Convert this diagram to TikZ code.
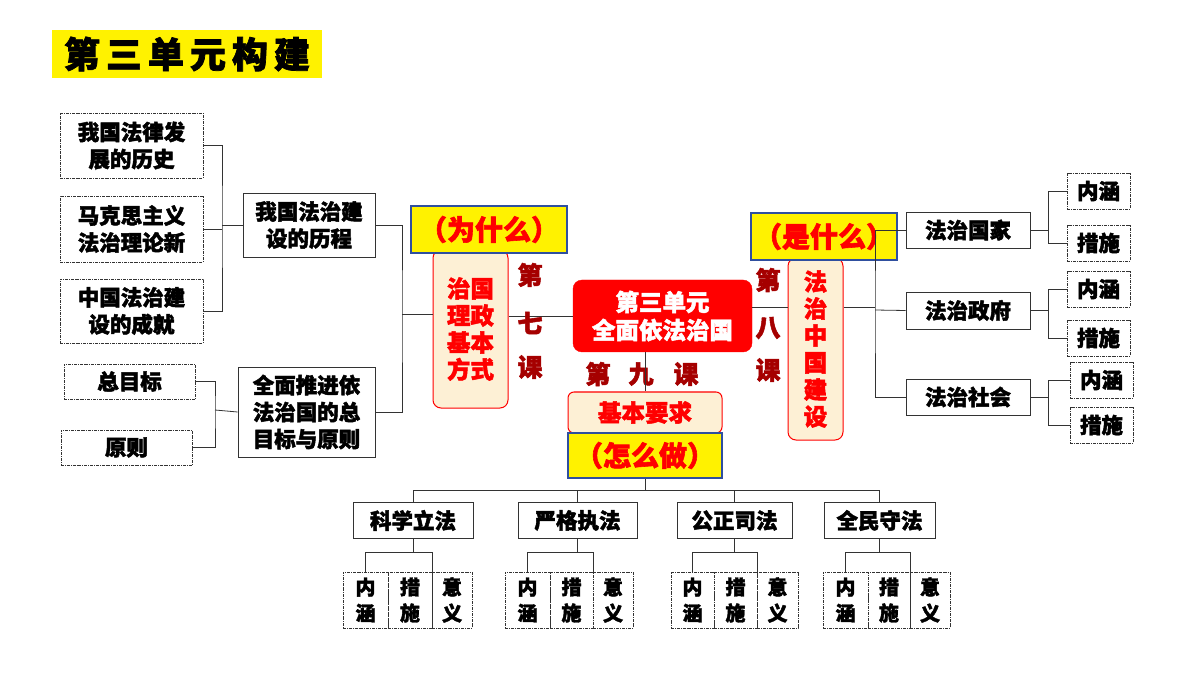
\documentclass[tikz,border=0pt]{standalone}
\usepackage{fontspec}
\setmainfont{Noto Sans CJK SC}[FakeBold=2]
\usetikzlibrary{positioning}
\definecolor{cream}{HTML}{FDF0D5}
\definecolor{dred}{HTML}{A50000}
\definecolor{bl}{HTML}{2F4F9F}
\tikzset{
 bx/.style={draw=black!80,line width=0.8pt,align=center,font=\fontsize{21.5}{27}\selectfont\bfseries,inner sep=0pt},
 db/.style={bx,densely dashdotted},
 yb/.style={draw=bl,line width=2pt,fill=yellow,text=red,font=\fontsize{28}{32}\selectfont\bfseries,inner sep=0pt},
 cb/.style={draw=red,line width=1pt,fill=cream,rounded corners=8pt,text=red,align=center,font=\fontsize{23.5}{27}\selectfont\bfseries,inner sep=0pt},
 ln/.style={draw=black!80,line width=0.8pt},
 lk/.style={text=dred,font=\fontsize{25}{28}\selectfont\bfseries}
}
\begin{document}
\begin{tikzpicture}[x=1pt,y=-1pt]
\useasboundingbox (0,0) rectangle (1200,676);
% title
\node[fill=yellow,minimum width=270,minimum height=48,font=\fontsize{36}{40}\selectfont\bfseries,inner sep=0pt] (title) at (187,54) {第\,三\,单\,元\,构\,建};
% left dashed boxes
\node[db,minimum width=143,minimum height=65] (l1) at (131.5,145.5) {我国法律发\\展的历史};
\node[db,minimum width=143,minimum height=66] (l2) at (131.5,229) {马克思主义\\法治理论新};
\node[db,minimum width=143,minimum height=64] (l3) at (131.5,311) {中国法治建\\设的成就};
\node[bx,minimum width=132,minimum height=64] (h1) at (309,225) {我国法治建\\设的历程};
\node[db,minimum width=131,minimum height=35] (g1) at (129.5,381.5) {总目标};
\node[db,minimum width=131,minimum height=35] (g2) at (126.5,447.5) {原则};
\node[bx,minimum width=137,minimum height=90] (h2) at (306.5,412) {全面推进依\\法治国的总\\目标与原则};
\draw[ln] (l1.east) -| (222,225) coordinate (j1) |- (l3.east);
\draw[ln] (l2.east) -- (l2.east -| j1);
\draw[ln] (j1) -- (h1.west);
\draw[ln] (g1.east) -| (215,410) coordinate (j2) |- (g2.east);
\draw[ln] (j2) -- (h2.west);
\draw[ln] (h1.east) -| (402,314) coordinate (j3) |- (h2.east);
% center
\node[cb,minimum width=75,minimum height=158] (k7) at (470.5,329) {治国\\理政\\基本\\方式};
\node[yb,minimum width=156,minimum height=47] (why) at (489,229.5) {（为什么）};
\draw[ln] (j3) -- (k7.west |- j3);
\node[draw=red,fill=red,rounded corners=9pt,minimum width=179,minimum height=72,text=white,align=center,font=\fontsize{23.5}{28}\selectfont\bfseries,inner sep=0pt] (c) at (662.5,316) {第三单元\\全面依法治国};
\draw[ln] (k7.east |- c) -- (c.west);
\node[lk] (a1) at (530,275) {第};
\node[lk] (a2) at (530,323) {七};
\node[lk] (a3) at (530,367) {课};
\node[cb,minimum width=55,minimum height=182] (k8) at (815.5,349) {法\\治\\中\\国\\建\\设};
\node[yb,minimum width=146,minimum height=47] (what) at (824,236.5) {（是什么）};
\draw[ln] (c.east |- 0,307) -- (k8.west |- 0,307);
\node[lk] (b1) at (768,280) {第};
\node[lk] (b2) at (768,328) {八};
\node[lk] (b3) at (768,370) {课};
\node[lk] (n1) at (598,374) {第};
\node[lk] (n2) at (641,374) {九};
\node[lk] (n3) at (686,374) {课};
\node[cb,rounded corners=6pt,minimum width=154,minimum height=41] (req) at (645,412.5) {基本要求};
\draw[ln] (c.south -| req) -- (req.north);
\node[yb,minimum width=154,minimum height=45] (how) at (645,455.5) {（怎么做）};
% right
\node[bx,minimum width=124,minimum height=36] (r1) at (968,230) {法治国家};
\node[bx,minimum width=124,minimum height=37] (r2) at (968,310.5) {法治政府};
\node[bx,minimum width=124,minimum height=36] (r3) at (968,397) {法治社会};
\draw[ln] (k8.east |- 0,307) -- (875,307);
\draw[ln] (r1.west) -| (875,310) |- (r3.west);
\draw[ln] (875,310) -- (r2.west);
\node[db,minimum width=63,minimum height=36] (p1) at (1098.5,191) {内涵};
\node[db,minimum width=63,minimum height=36] (q1) at (1098.5,243) {措施};
\node[db,minimum width=63,minimum height=36] (p2) at (1098.5,289) {内涵};
\node[db,minimum width=63,minimum height=36] (q2) at (1098.5,338) {措施};
\node[db,minimum width=63,minimum height=36] (p3) at (1101.5,380) {内涵};
\node[db,minimum width=63,minimum height=36] (q3) at (1101.5,425) {措施};
\foreach \r/\p/\q in {r1/p1/q1,r2/p2/q2,r3/p3/q3}{
 \draw[ln] (\p.west) -| (1048,0 |- \r.east) |- (\q.west);
 \draw[ln] (\r.east) -- (1048,0 |- \r.east);
}
% bottom
\node[bx,minimum width=120,minimum height=36] (s1) at (413,520.5) {科学立法};
\node[bx,minimum width=119,minimum height=36] (s2) at (577.5,520.5) {严格执法};
\node[bx,minimum width=115,minimum height=36] (s3) at (734.5,520.5) {公正司法};
\node[bx,minimum width=111,minimum height=36] (s4) at (879.5,520.5) {全民守法};
\draw[ln] (how.south) -- (645,490);
\draw[ln] (s1.north) -- (s1.north |- 0,490) -- (s4.north |- 0,490) -- (s4.north);
\draw[ln] (s2.north |- 0,490) -- (s2.north);
\draw[ln] (s3.north |- 0,490) -- (s3.north);
\tikzset{sb/.style={db,font=\fontsize{20}{26}\selectfont\bfseries,minimum height=56}}
\foreach \s/\a/\b/\c/\d in {s1/343/388/432/472,s2/505/550/593/633,s3/671/714/757/798,s4/823/868/910/950}{
 \node[sb,minimum width=\b-\a] (\s a) at ({(\a+\b)/2},600) {内\\涵};
 \node[sb,minimum width=\c-\b] (\s b) at ({(\b+\c)/2},600) {措\\施};
 \node[sb,minimum width=\d-\c] (\s c) at ({(\c+\d)/2},600) {意\\义};
 \draw[ln] (\s.south) -- (\s.south |- 0,552);
 \draw[ln] (\s a.north) -- (\s a.north |- 0,552) -- (\c,552) -- (\c,572);
}
\end{tikzpicture}
\end{document}
